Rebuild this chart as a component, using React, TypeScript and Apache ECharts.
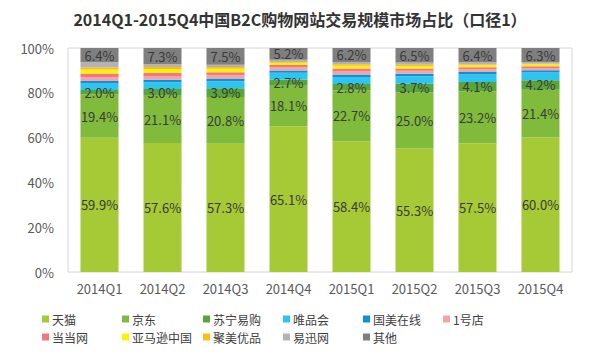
import React, { useEffect, useRef } from "react";
import * as echarts from "echarts";

const categories = ["2014Q1", "2014Q2", "2014Q3", "2014Q4", "2015Q1", "2015Q2", "2015Q3", "2015Q4"];
const seriesNames = ["天猫", "京东", "苏宁易购", "唯品会", "国美在线", "1号店", "当当网", "亚马逊中国", "聚美优品", "易迅网", "其他"];
const tmall = [59.9, 57.6, 57.3, 65.1, 58.4, 55.3, 57.5, 60.0];
const jd = [19.4, 21.1, 20.8, 18.1, 22.7, 25.0, 23.2, 21.4];
const suning = [2.0, 3.0, 3.9, 2.7, 2.8, 3.7, 4.1, 4.2];
const vip = [2.8, 3.0, 3.2, 3.0, 3.2, 3.4, 3.4, 3.5];
const gome = [1.2, 1.1, 1.0, 1.0, 1.1, 1.1, 1.1, 1.0];
const yhd = [1.7, 1.7, 1.6, 1.4, 1.5, 1.3, 1.2, 1.0];
const dangdang = [1.6, 1.5, 1.4, 1.1, 1.2, 1.1, 0.9, 0.8];
const amazon = [1.8, 1.6, 1.5, 1.0, 1.2, 1.1, 0.9, 0.8];
const jumei = [0.9, 0.9, 0.8, 0.4, 0.6, 0.5, 0.4, 0.3];
const yixun = [2.3, 1.2, 1.0, 1.0, 1.1, 1.0, 0.9, 0.7];
const others = [6.4, 7.3, 7.5, 5.2, 6.2, 6.5, 6.4, 6.3];
const yTicks = [0, 20, 40, 60, 80, 100];

const seriesData = [tmall, jd, suning, vip, gome, yhd, dangdang, amazon, jumei, yixun, others];
const colors = ["#a6c936", "#80bb3c", "#5aa53a", "#2ec4f0", "#0a93d6", "#f4a3ab", "#f07880", "#fff200", "#fcbc1a", "#b3b3b3", "#7f7f7f"];
const labeled = [true, true, true, false, false, false, false, false, false, false, true];

const legendCols = [42, 122, 203, 283, 363, 443];
const legendRows = [313, 331];

export default function App() {
  const ref = useRef<HTMLDivElement>(null);
  useEffect(() => {
    if (!ref.current) return;
    const chart = echarts.init(ref.current, null, { renderer: "svg" });
    const font = "'Noto Sans CJK SC', 'Noto Sans', sans-serif";
    const legends = seriesNames.map((name, i) => ({
      data: [name],
      left: legendCols[i % 6],
      top: legendRows[Math.floor(i / 6)],
      itemWidth: 7,
      itemHeight: 7,
      icon: "rect",
      padding: 0,
      textStyle: { fontSize: 12, color: "#404040", fontFamily: font, padding: [0, 0, 0, -2] },
      selectedMode: false,
    }));
    chart.setOption({
      animation: false,
      backgroundColor: "#ffffff",
      textStyle: { fontFamily: font },
      title: {
        text: "2014Q1-2015Q4中国B2C购物网站交易规模市场占比（口径1）",
        left: "center",
        top: 6,
        textStyle: { fontSize: 16, fontWeight: "bold", color: "#333333", fontFamily: font },
      },
      legend: legends,
      grid: {
        left: 68,
        right: 28,
        top: 48,
        bottom: 85,
        show: true,
        borderColor: "#d4d4d4",
        borderWidth: 1,
        backgroundColor: "transparent",
      },
      xAxis: {
        type: "category",
        data: categories,
        axisLine: { show: false },
        axisTick: { show: false },
        axisLabel: { fontSize: 13, color: "#595959", margin: 10, fontFamily: font },
      },
      yAxis: {
        type: "value",
        min: yTicks[0],
        max: yTicks[yTicks.length - 1],
        interval: 20,
        splitLine: { show: false },
        axisLine: { show: false },
        axisTick: { show: false },
        axisLabel: { fontSize: 13, color: "#595959", formatter: "{value}%", margin: 14, fontFamily: font },
      },
      series: seriesNames.map((name, i) => ({
        name,
        type: "bar",
        stack: "total",
        barWidth: 38,
        data: seriesData[i],
        itemStyle: { color: colors[i] },
        label: {
          show: labeled[i],
          position: "inside",
          formatter: (p: any) => Number(p.value).toFixed(1) + "%",
          fontSize: 13,
          color: "#3a3a3a",
          fontFamily: font,
        },
      })),
    });
    return () => chart.dispose();
  }, []);
  return <div ref={ref} style={{ width: 600, height: 357, margin: -8 }} />;
}
